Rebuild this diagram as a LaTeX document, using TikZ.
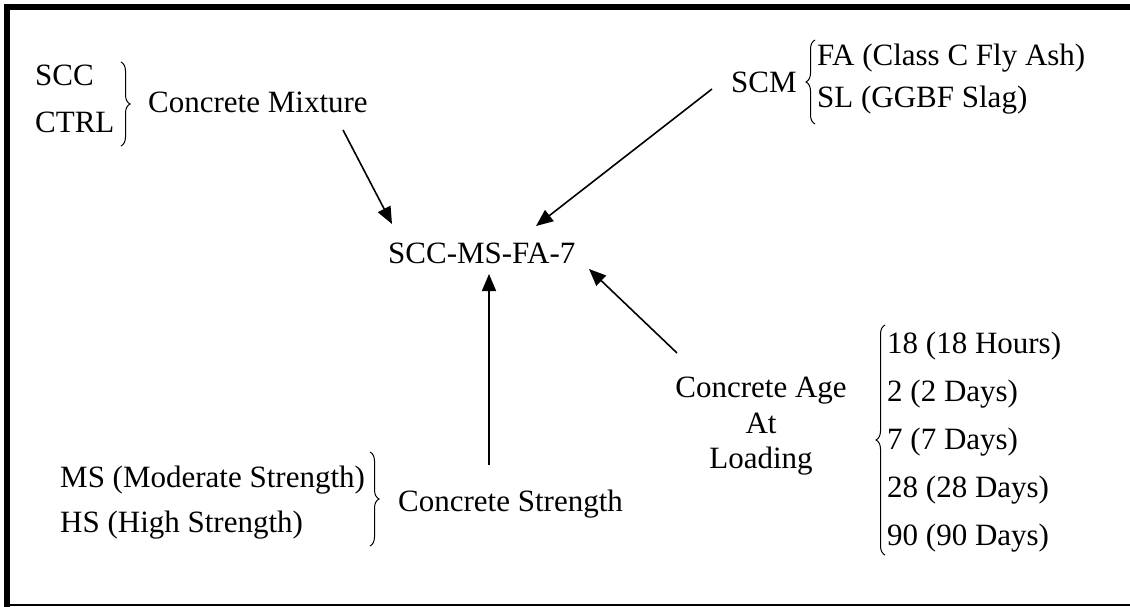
\documentclass[tikz,border=0pt]{standalone}
\usepackage{fontspec}
\setmainfont{Liberation Serif}
\usetikzlibrary{arrows.meta,decorations.pathreplacing}
\begin{document}
\begin{tikzpicture}[x=1pt,y=1pt,
  txt/.style={inner sep=0pt,anchor=base west,font=\fontsize{31}{37}\selectfont},
  txtc/.style={inner sep=0pt,anchor=base,font=\fontsize{31}{37}\selectfont},
  arr/.style={line width=1.6pt,-{Triangle[length=17pt,width=14pt]}},
  brc/.style={line width=1pt,decorate,decoration={brace,amplitude=9pt,aspect=0.5}},
  frame/.style={line width=6pt}]
\useasboundingbox (0,0) rectangle (1130,-607);
% frame
\draw[frame] (7,-4) -- (7,-607);
\draw[frame] (4,-7) -- (1130,-7);
\draw[line width=2pt] (7,-605) -- (1130,-605);
% concrete mixture
\node[txt] (scc) at (35,-86) {SCC};
\node[txt] (ctrl) at (35,-133) {CTRL};
\node[txt] (mix) at (148,-113) {Concrete Mixture};
\draw[brc] (121,-62) -- (121,-146);
% SCM
\node[txt] (scm) at (731,-93) {SCM};
\node[txt] (fa) at (817,-66) {FA (Class C Fly Ash)};
\node[txt] (sl) at (817,-108) {SL (GGBF Slag)};
\draw[brc] (815,-124) -- (815,-40);
% center
\node[txt] (code) at (388,-263) {SCC-MS-FA-7};
% age
\node[txtc] (age1) at (761,-397) {Concrete Age};
\node[txtc] (age2) at (761,-433) {At};
\node[txtc] (age3) at (761,-468) {Loading};
\node[txt] (d18) at (887,-353) {18 (18 Hours)};
\node[txt] (d2) at (887,-401) {2 (2 Days)};
\node[txt] (d7) at (887,-449) {7 (7 Days)};
\node[txt] (d28) at (887,-497) {28 (28 Days)};
\node[txt] (d90) at (887,-545) {90 (90 Days)};
\draw[brc] (885,-555) -- (885,-325);
% strength
\node[txt] (ms) at (60,-487) {MS (Moderate Strength)};
\node[txt] (hs) at (60,-532) {HS (High Strength)};
\node[txt] (str) at (398,-511) {Concrete Strength};
\draw[brc] (370,-452) -- (370,-546);
% arrows
\coordinate (m1) at (343,-130);
\coordinate (m2) at (392,-224);
\coordinate (s1) at (712,-89);
\coordinate (s2) at (536,-226);
\coordinate (u1) at (489,-465);
\coordinate (u2) at (489,-274);
\coordinate (g1) at (677,-353);
\coordinate (g2) at (589,-269);
\draw[arr] (m1) -- (m2);
\draw[arr] (s1) -- (s2);
\draw[arr] (u1) -- (u2);
\draw[arr] (g1) -- (g2);
\end{tikzpicture}
\end{document}
